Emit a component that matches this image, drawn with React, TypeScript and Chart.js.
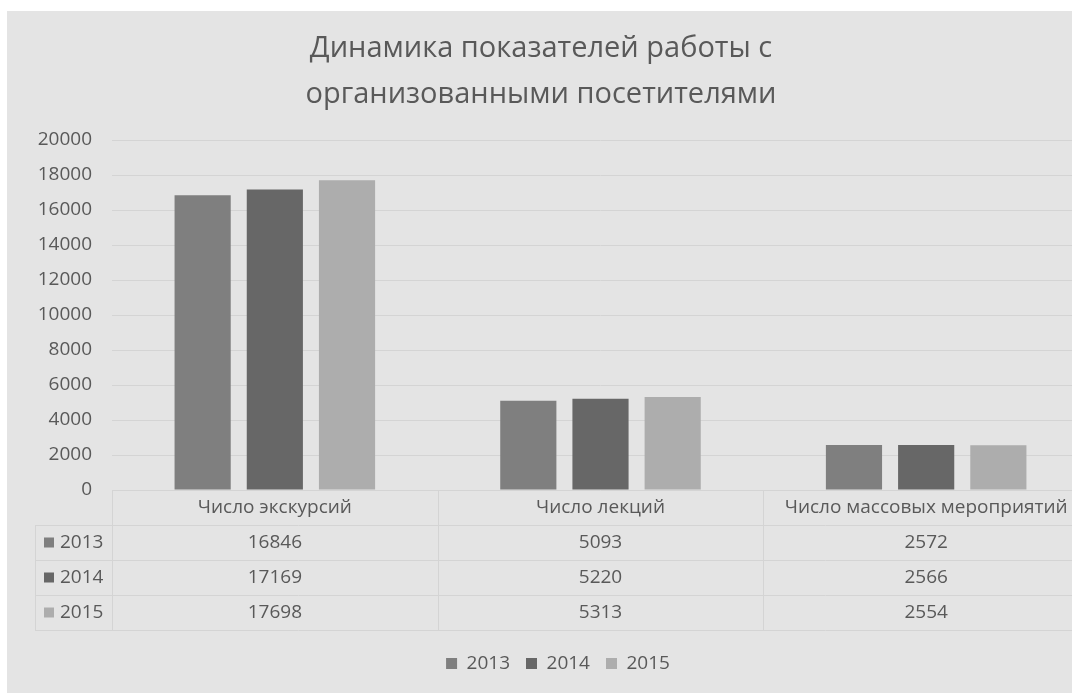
import React, { useEffect, useRef } from "react";
import { Chart, registerables } from "chart.js";

Chart.register(...registerables);

const titleLines = ["Динамика показателей работы с", "организованными посетителями"];
const categories = ["Число экскурсий", "Число лекций", "Число массовых мероприятий"];
const years = ["2013", "2014", "2015"];
const values2013 = [16846, 5093, 2572];
const values2014 = [17169, 5220, 2566];
const values2015 = [17698, 5313, 2554];
const seriesValues = [values2013, values2014, values2015];
const seriesColors = ["#7f7f7f", "#676767", "#adadad"];
const yMin = 0;
const yMax = 20000;
const yStep = 2000;

const FONT = "'Open Sans', 'Noto Sans', sans-serif";
const TEXT = "#595959";
const LINE = "#d4d4d4";

const titlePlugin = {
  id: "customTitle",
  afterDraw(chart: any) {
    const ctx = chart.ctx;
    ctx.save();
    ctx.fillStyle = TEXT;
    ctx.font = `29px ${FONT}`;
    ctx.textAlign = "center";
    ctx.textBaseline = "middle";
    ctx.fillText(titleLines[0], 534, 38);
    ctx.fillText(titleLines[1], 534, 84);
    ctx.restore();
  },
};

const tablePlugin = {
  id: "dataTable",
  afterDraw(chart: any) {
    const ctx = chart.ctx;
    const x = chart.scales.x;
    const area = chart.chartArea;
    const top = area.bottom;
    const rowH = 35;
    const band = (area.right - area.left) / categories.length;
    const keyLeft = 28;
    ctx.save();
    ctx.strokeStyle = LINE;
    ctx.lineWidth = 1;
    for (let r = 1; r <= years.length + 1; r++) {
      const y = Math.round(top + r * rowH) + 0.5;
      ctx.beginPath();
      ctx.moveTo(keyLeft, y);
      ctx.lineTo(area.right, y);
      ctx.stroke();
    }
    const bottom = top + (years.length + 1) * rowH;
    ctx.beginPath();
    ctx.moveTo(keyLeft + 0.5, top + rowH);
    ctx.lineTo(keyLeft + 0.5, bottom);
    ctx.stroke();
    for (let c = 0; c <= categories.length; c++) {
      const vx = Math.round(area.left + c * band) + 0.5;
      ctx.beginPath();
      ctx.moveTo(vx, top);
      ctx.lineTo(vx, bottom);
      ctx.stroke();
    }
    ctx.fillStyle = TEXT;
    ctx.font = `19px ${FONT}`;
    ctx.textBaseline = "middle";
    ctx.textAlign = "center";
    categories.forEach((c, i) => {
      ctx.fillText(c, x.getPixelForValue(i), top + rowH / 2);
    });
    years.forEach((yr, r) => {
      const cy = top + (r + 1) * rowH + rowH / 2;
      ctx.fillStyle = seriesColors[r];
      ctx.fillRect(keyLeft + 9, cy - 5, 10, 10);
      ctx.fillStyle = TEXT;
      ctx.textAlign = "left";
      ctx.fillText(yr, keyLeft + 25, cy);
      ctx.textAlign = "center";
      seriesValues[r].forEach((v, i) => {
        ctx.fillText(String(v), x.getPixelForValue(i), cy);
      });
    });
    ctx.restore();
  },
};

export default function App() {
  const ref = useRef<HTMLCanvasElement>(null);
  useEffect(() => {
    if (!ref.current) return;
    const chart = new Chart(ref.current, {
      type: "bar",
      data: {
        labels: categories,
        datasets: years.map((yr, i) => ({
          label: yr,
          data: seriesValues[i],
          backgroundColor: seriesColors[i],
          borderWidth: 0,
          categoryPercentage: 0.665,
          barPercentage: 0.778,
        })),
      },
      options: {
        animation: false,
        responsive: false,
        layout: { padding: { top: 129, right: 20, bottom: 10, left: 20 } },
        plugins: {
          title: { display: false },
          tooltip: { enabled: false },
          legend: {
            position: "bottom",
            labels: {
              boxWidth: 11,
              boxHeight: 11,
              padding: 16,
              color: TEXT,
              font: { family: FONT, size: 19 },
            },
          },
        },
        scales: {
          x: {
            grid: { display: false },
            border: { display: false },
            ticks: { display: false },
            afterFit: (s: any) => {
              s.height = 148;
            },
          },
          y: {
            min: yMin,
            max: yMax,
            ticks: {
              stepSize: yStep,
              color: TEXT,
              font: { family: FONT, size: 19 },
              padding: 20,
              callback: (v: any) => String(v),
            },
            grid: { color: LINE, drawTicks: false },
            border: { display: false },
            afterFit: (s: any) => {
              s.width = 85;
            },
          },
        },
      },
      plugins: [titlePlugin, tablePlugin],
    });
    return () => chart.destroy();
  }, []);
  return (
    <div
      style={{
        position: "absolute",
        left: 7,
        top: 11,
        width: 1065,
        height: 682,
        overflow: "hidden",
        background: "#e4e4e4",
      }}
    >
      <canvas ref={ref} width={1102} height={682} style={{ width: 1102, height: 682, display: "block" }} />
    </div>
  );
}
